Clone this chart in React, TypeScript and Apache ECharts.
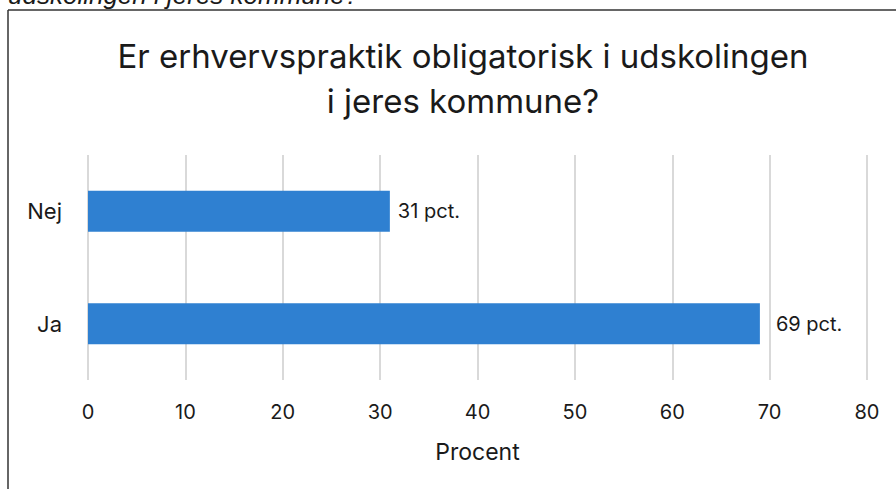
import React, { useEffect, useRef } from "react";
import * as echarts from "echarts";

const categories = ["Ja", "Nej"];
const values = [69, 31];
const labelGaps = [16, 8];
const xTicks = [0, 10, 20, 30, 40, 50, 60, 70, 80];
const titleText = "Er erhvervspraktik obligatorisk i udskolingen\ni jeres kommune?";
const topText = "udskolingen i jeres kommune?";
const axisName = "Procent";

export default function App() {
  const ref = useRef<HTMLDivElement>(null);
  useEffect(() => {
    if (!ref.current) return;
    const chart = echarts.init(ref.current, null, { renderer: "svg" });
    const font = "Inter, 'Noto Sans', sans-serif";
    chart.setOption({
      animation: false,
      backgroundColor: "#ffffff",
      title: {
        text: titleText,
        left: 458,
        textAlign: "center",
        top: 28,
        padding: 5,
        textStyle: {
          fontFamily: font,
          fontSize: 33,
          fontWeight: "normal",
          color: "#1a1a1a",
          lineHeight: 45,
        },
      },
      grid: { left: 88, right: 29, top: 155, bottom: 109, containLabel: false },
      xAxis: {
        type: "value",
        min: xTicks[0],
        max: xTicks[xTicks.length - 1],
        interval: 10,
        name: axisName,
        nameLocation: "middle",
        nameGap: 60,
        nameTextStyle: { fontFamily: font, fontSize: 23, color: "#1a1a1a" },
        axisLine: { show: false },
        axisTick: { show: false },
        axisLabel: { fontFamily: font, fontSize: 20, color: "#1a1a1a", margin: 22 },
        splitLine: { show: true, lineStyle: { color: "#d9d9d9", width: 2 } },
      },
      yAxis: {
        type: "category",
        data: categories,
        axisLine: { show: false },
        axisTick: { show: false },
        axisLabel: { fontFamily: font, fontSize: 22, color: "#1a1a1a", margin: 26 },
      },
      series: [
        {
          type: "bar",
          data: values.map((v, i) => ({ value: v, label: { distance: labelGaps[i] } })),
          barWidth: 41,
          itemStyle: { color: "#2F80D1" },
          label: {
            show: true,
            position: "right",
            formatter: "{c} pct.",
            fontFamily: font,
            fontSize: 20,
            color: "#1a1a1a",
          },
        },
      ],
      graphic: [
        {
          type: "text",
          x: 8,
          y: -5,
          style: {
            text: topText,
            font: "italic 26px 'Liberation Sans', Arial, sans-serif",
            fill: "#1a1a1a",
            verticalAlign: "middle",
          },
        },
        {
          type: "line",
          shape: { x1: 8, y1: 10, x2: 8, y2: 489 },
          style: { stroke: "#333333", lineWidth: 1.5 },
        },
        {
          type: "line",
          shape: { x1: 8, y1: 10, x2: 896, y2: 10 },
          style: { stroke: "#333333", lineWidth: 1.5 },
        },
      ],
    });
    return () => chart.dispose();
  }, []);
  return (
    <div
      ref={ref}
      style={{ position: "fixed", left: 0, top: 0, width: 896, height: 489 }}
    />
  );
}
